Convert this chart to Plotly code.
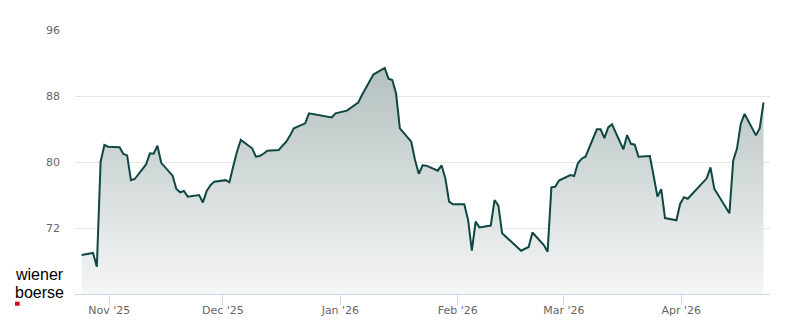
import plotly.graph_objects as go

# ---- data ----
dates = [
    "2025-10-24", "2025-10-27", "2025-10-28", "2025-10-29", "2025-10-30", "2025-10-31",
    "2025-11-03", "2025-11-04", "2025-11-05", "2025-11-06", "2025-11-07",
    "2025-11-10", "2025-11-11", "2025-11-12", "2025-11-13", "2025-11-14",
    "2025-11-17", "2025-11-18", "2025-11-19", "2025-11-20", "2025-11-21",
    "2025-11-24", "2025-11-25", "2025-11-26", "2025-11-27", "2025-11-28",
    "2025-12-01", "2025-12-02", "2025-12-03", "2025-12-04", "2025-12-05",
    "2025-12-08", "2025-12-09", "2025-12-10", "2025-12-11", "2025-12-12",
    "2025-12-15", "2025-12-16", "2025-12-17", "2025-12-18", "2025-12-19",
    "2025-12-22", "2025-12-23", "2025-12-29", "2025-12-30",
    "2026-01-02", "2026-01-05", "2026-01-06", "2026-01-07", "2026-01-08", "2026-01-09",
    "2026-01-12", "2026-01-13", "2026-01-14", "2026-01-15", "2026-01-16",
    "2026-01-19", "2026-01-20", "2026-01-21", "2026-01-22", "2026-01-23",
    "2026-01-26", "2026-01-27", "2026-01-28", "2026-01-29", "2026-01-30",
    "2026-02-02", "2026-02-03", "2026-02-04", "2026-02-05", "2026-02-06",
    "2026-02-09", "2026-02-10", "2026-02-11", "2026-02-12",
    "2026-02-17", "2026-02-18", "2026-02-19", "2026-02-20",
    "2026-02-23", "2026-02-24", "2026-02-25", "2026-02-26", "2026-02-27",
    "2026-03-02", "2026-03-03", "2026-03-04", "2026-03-05", "2026-03-06",
    "2026-03-09", "2026-03-10", "2026-03-11", "2026-03-12", "2026-03-13",
    "2026-03-16", "2026-03-17", "2026-03-18", "2026-03-19", "2026-03-20",
    "2026-03-23", "2026-03-24", "2026-03-25", "2026-03-26", "2026-03-27",
    "2026-03-30", "2026-03-31", "2026-04-01", "2026-04-02",
    "2026-04-07", "2026-04-08", "2026-04-09",
    "2026-04-13", "2026-04-14", "2026-04-15", "2026-04-16", "2026-04-17",
    "2026-04-20", "2026-04-21", "2026-04-22",
]
prices = [
    68.73, 68.97, 67.30, 80.04, 82.06, 81.86,
    81.78, 80.97, 80.80, 77.80, 77.94,
    79.70, 81.05, 81.00, 81.98, 79.90,
    78.34, 76.73, 76.33, 76.48, 75.80,
    76.00, 75.10, 76.50, 77.20, 77.60,
    77.80, 77.54, 79.45, 81.25, 82.67,
    81.66, 80.64, 80.73, 81.00, 81.37,
    81.45, 81.90, 82.46, 83.20, 84.08,
    84.69, 85.90, 85.41, 85.90,
    86.22, 87.19, 88.12, 88.90, 89.80, 90.60,
    91.40, 90.10, 89.94, 88.30, 84.08,
    82.46, 80.24, 78.58, 79.60, 79.56,
    78.95, 79.60, 78.02, 75.19, 74.87,
    74.87, 73.00, 69.25, 72.77, 72.06,
    72.30, 75.39, 74.70, 71.35,
    69.25, 69.50, 69.70, 71.45,
    69.94, 69.13, 76.93, 77.00, 77.75,
    78.42, 78.30, 79.84, 80.40, 80.64,
    83.96, 83.96, 82.90, 84.20, 84.57,
    81.53, 83.27, 82.20, 82.10, 80.64,
    80.73, 78.30, 75.80, 76.70, 73.20,
    72.93, 74.95, 75.72, 75.55,
    78.02, 79.35, 76.77,
    73.78, 80.20, 81.62, 84.65, 85.82,
    83.23, 84.10, 87.21,
]
tick_dates = ["2025-11-01", "2025-12-01", "2026-01-01", "2026-02-01", "2026-03-01", "2026-04-01"]
tick_labels = ["Nov '25", "Dec '25", "Jan '26", "Feb '26", "Mar '26", "Apr '26"]
y_ticks = [72, 80, 88, 96]
logo_lines = ["wiener", "boerse"]

x_vals = [d + " 17:00" for d in dates]

LINE = "#0f4744"
AXIS = "#ccd6eb"
GRID = "#e6e6e6"
FONT = "DejaVu Sans"

L, R, T, B = 75, 30, 30, 30
W, H = 800, 324
PW, PH = W - L - R, H - T - B


def px_x(px):
    return (px - L) / PW


def px_y(py):
    return (H - B - py) / PH


fig = go.Figure()
fig.add_trace(go.Scatter(
    x=x_vals, y=prices, mode="lines",
    line=dict(color=LINE, width=2),
    fill="tozeroy",
    fillgradient=dict(type="vertical", start=64, stop=92,
                      colorscale=[[0, "#f5f6f6"], [1, "#b2c0be"]]),
    hoverinfo="skip", showlegend=False,
))

fig.update_layout(
    width=W, height=H,
    margin=dict(l=L, r=R, t=T, b=B, autoexpand=False),
    paper_bgcolor="white", plot_bgcolor="white",
    font=dict(family=FONT, size=11, color="#666666"),
    hovermode=False,
    xaxis=dict(
        type="date", automargin=False,
        range=["2025-10-22 22:40", "2026-04-24 10:05"],
        tickvals=tick_dates, ticktext=tick_labels,
        ticks="outside", ticklen=10, tickcolor=AXIS, tickwidth=1,
        ticklabelstandoff=-4,
        showline=True, linecolor=AXIS, linewidth=1,
        showgrid=False, zeroline=False,
        tickfont=dict(family=FONT, size=11, color="#666666"),
    ),
    yaxis=dict(
        range=[64, 96], automargin=False,
        tickvals=y_ticks,
        showgrid=True, gridcolor=GRID, gridwidth=1,
        zeroline=False, showline=False, ticks="",
        ticklabelstandoff=14,
        tickfont=dict(family=FONT, size=11, color="#666666"),
    ),
)

# logo text
for text, mid in zip(logo_lines, [274.5, 292.5]):
    fig.add_annotation(xref="paper", yref="paper", x=px_x(13), y=px_y(mid),
                       xanchor="left", yanchor="middle",
                       text=text, showarrow=False, align="left",
                       font=dict(family="Liberation Sans", size=16, color="#000000"))
fig.add_shape(type="rect", xref="paper", yref="paper",
              x0=px_x(15), x1=px_x(19.7), y0=px_y(305.7), y1=px_y(301.7),
              fillcolor="#d0021b", line=dict(width=0))

fig.write_html("out.html")
